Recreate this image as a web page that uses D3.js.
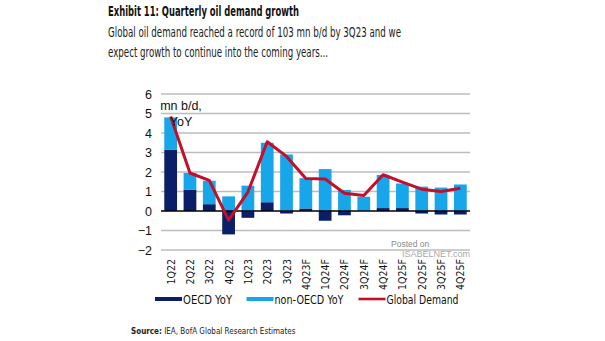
<!DOCTYPE html>
<html>
<head>
<meta charset="utf-8">
<script src="https://cdn.jsdelivr.net/npm/d3@7"></script>
<style>
  html, body { margin: 0; padding: 0; background: #fff; }
  svg { display: block; }
  .narrow { font-family: "Liberation Sans Narrow", "Arial Narrow", "DejaVu Sans Condensed", sans-serif; }
  .arial { font-family: "Liberation Sans", Arial, sans-serif; }
</style>
</head>
<body>
<svg id="chart" width="605" height="341"></svg>
<script>
// quarterly oil demand growth, mn b/d YoY
var quarters = ["1Q22", "2Q22", "3Q22", "4Q22", "1Q23", "2Q23", "3Q23", "4Q23F",
  "1Q24F", "2Q24F", "3Q24F", "4Q24F", "1Q25F", "2Q25F", "3Q25F", "4Q25F"];
var oecd = [3.15, 1.1, 0.35, -1.2, -0.35, 0.45, -0.13, 0.13, -0.5, -0.22, 0.0, 0.15, 0.15, -0.13, -0.18, -0.18];
var nonOecd = [1.65, 0.85, 1.2, 0.75, 1.3, 3.05, 2.9, 1.55, 2.15, 1.08, 0.73, 1.7, 1.26, 1.25, 1.2, 1.36];
var globalDemand = [4.85, 1.95, 1.57, -0.47, 0.97, 3.55, 2.8, 1.67, 1.64, 0.91, 0.79, 1.86, 1.48, 1.12, 1.0, 1.17];
var yTicks = [-2, -1, 0, 1, 2, 3, 4, 5, 6];
var seriesNames = ["OECD YoY", "non-OECD YoY", "Global Demand"];

var colors = { oecd: "#0b1f68", nonOecd: "#17a6ea", global: "#c20f2c" };

var svg = d3.select("#chart");

// titles
svg.append("text").attr("class", "narrow")
  .attr("x", 108).attr("y", 16)
  .attr("font-size", 14).attr("font-weight", "bold").attr("fill", "#111")
  .attr("textLength", 191).attr("lengthAdjust", "spacingAndGlyphs")
  .text("Exhibit 11: Quarterly oil demand growth");
svg.append("text").attr("class", "narrow")
  .attr("x", 108).attr("y", 37)
  .attr("font-size", 14).attr("fill", "#222")
  .attr("textLength", 293).attr("lengthAdjust", "spacingAndGlyphs")
  .text("Global oil demand reached a record of 103 mn b/d by 3Q23 and we");
svg.append("text").attr("class", "narrow")
  .attr("x", 108).attr("y", 56.5)
  .attr("font-size", 14).attr("fill", "#222")
  .attr("textLength", 220).attr("lengthAdjust", "spacingAndGlyphs")
  .text("expect growth to continue into the coming years...");

var x = d3.scaleBand().domain(quarters).range([161, 470])
  .paddingInner(0.34).paddingOuter(0.17);
var y = d3.scaleLinear().domain([-2, 6]).range([250, 94]);

// gridlines
svg.append("g")
  .selectAll("line").data(yTicks.filter(function (d) { return d !== 0; }))
  .enter().append("line")
  .attr("x1", 161).attr("x2", 470)
  .attr("y1", function (d) { return y(d); }).attr("y2", function (d) { return y(d); })
  .attr("stroke", "#bdbdbd").attr("stroke-width", 1.3);

// y tick labels
var yAxis = svg.append("g").attr("transform", "translate(152,0)")
  .call(d3.axisLeft(y).tickValues(yTicks).tickSize(0).tickPadding(0));
yAxis.select(".domain").remove();
yAxis.selectAll("text").attr("class", "arial").attr("font-size", 12.5).attr("fill", "#111")
  .attr("font-family", null);

// stacked bars
var rows = quarters.map(function (q, i) {
  return { q: q, oecd: oecd[i], nonOecd: nonOecd[i] };
});
var stacked = d3.stack().keys(["oecd", "nonOecd"]).offset(d3.stackOffsetDiverging)(rows);

svg.append("g").selectAll("g").data(stacked).enter().append("g")
  .attr("fill", function (s) { return colors[s.key]; })
  .selectAll("rect").data(function (s) { return s; })
  .enter().append("rect")
  .attr("x", function (d) { return x(d.data.q); })
  .attr("width", x.bandwidth())
  .attr("y", function (d) { return y(Math.max(d[0], d[1])); })
  .attr("height", function (d) { return Math.abs(y(d[0]) - y(d[1])); });

// zero line
svg.append("line")
  .attr("x1", 161).attr("x2", 470).attr("y1", y(0)).attr("y2", y(0))
  .attr("stroke", "#000").attr("stroke-width", 1.4);

// global demand line
var line = d3.line()
  .x(function (d, i) { return x(quarters[i]) + x.bandwidth() / 2; })
  .y(function (d) { return y(d); });
svg.append("path").datum(globalDemand)
  .attr("d", line).attr("fill", "none")
  .attr("stroke", colors.global).attr("stroke-width", 3)
  .attr("stroke-linejoin", "round");

// unit label
var unit = svg.append("text").attr("class", "arial")
  .attr("font-size", 12.5).attr("fill", "#111").attr("text-anchor", "middle");
unit.append("tspan").attr("x", 181).attr("y", 110).text("mn b/d,");
unit.append("tspan").attr("x", 181).attr("y", 126).text("YoY");

// x labels, rotated
svg.append("g").selectAll("text").data(quarters).enter().append("text")
  .attr("class", "narrow")
  .attr("font-size", 10.5).attr("fill", "#111")
  .attr("text-anchor", "end")
  .attr("transform", function (d) {
    return "translate(" + (x(d) + x.bandwidth() / 2 + 4) + ",259) rotate(-90)";
  })
  .text(function (d) { return d; });

// watermark
svg.append("text").attr("class", "arial")
  .attr("x", 391).attr("y", 247).attr("font-size", 8.5).attr("fill", "#8a8a8a")
  .text("Posted on");
svg.append("text").attr("class", "arial")
  .attr("x", 402).attr("y", 257).attr("font-size", 9).attr("fill", "#a8a8a8")
  .text("ISABELNET.com");

// legend
var legend = [
  { name: seriesNames[0], color: colors.oecd, x0: 155, w: 49, type: "bar" },
  { name: seriesNames[1], color: colors.nonOecd, x0: 246.5, w: 69, type: "bar" },
  { name: seriesNames[2], color: colors.global, x0: 358.5, w: 72, type: "line" }
];
var lg = svg.append("g").selectAll("g").data(legend).enter().append("g")
  .attr("transform", function (d) { return "translate(" + d.x0 + ",299)"; });
lg.append("rect")
  .attr("x", 0).attr("width", 27)
  .attr("y", function (d) { return d.type === "bar" ? -2 : -1.3; })
  .attr("height", function (d) { return d.type === "bar" ? 4 : 2.6; })
  .attr("fill", function (d) { return d.color; });
lg.append("text").attr("class", "narrow")
  .attr("x", 28).attr("y", 4.5)
  .attr("font-size", 12.5).attr("fill", "#111")
  .attr("textLength", function (d) { return d.w; })
  .attr("lengthAdjust", "spacingAndGlyphs")
  .text(function (d) { return d.name; });

// source
var src = svg.append("text").attr("class", "narrow")
  .attr("x", 131).attr("y", 334).attr("font-size", 8).attr("fill", "#222");
src.append("tspan").attr("font-weight", "bold").text("Source:");
src.append("tspan").text(" IEA, BofA Global Research Estimates");
</script>
</body>
</html>
